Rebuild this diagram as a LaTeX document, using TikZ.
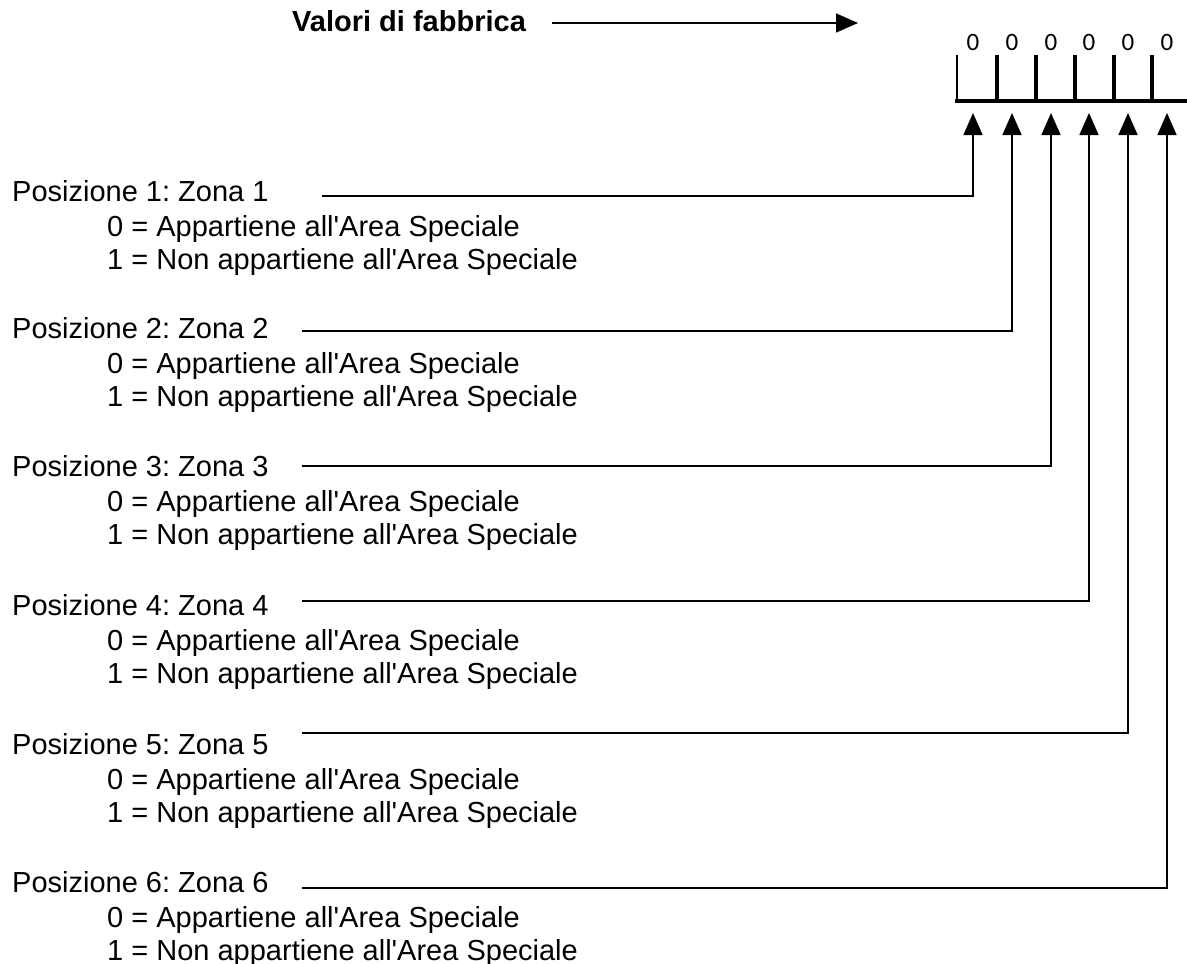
\documentclass[tikz,border=0pt]{standalone}
\usepackage{fontspec}
\setmainfont{Liberation Sans}[Ligatures=TeXOff]
\newfontfamily\digitfont{Carlito}
\usetikzlibrary{arrows.meta}
\frenchspacing
\tikzset{
  lbl/.style={anchor=base west, inner sep=0pt, font=\fontsize{29}{33}\selectfont},
  titlelbl/.style={anchor=base west, inner sep=0pt, font=\fontsize{29}{33}\selectfont\bfseries},
  digit/.style={anchor=base, inner sep=0pt, font=\digitfont\fontsize{25}{30}\selectfont},
  conn/.style={line width=1.6pt, -{Triangle[length=22pt,width=19pt]}},
  ticklin/.style={line width=3.3pt},
  rail/.style={line width=3.5pt},
}
\begin{document}
\begin{tikzpicture}[x=1pt,y=-1pt]
\useasboundingbox (0,0) rectangle (1187,964);
% title and its arrow
\node[titlelbl] (vf) at (292,31) {Valori di fabbrica};
\coordinate (vfs) at (552,23);
\coordinate (vfe) at (858,23);
\draw[conn] (vfs) -- (vfe);
% register: rail, ticks and digits
\coordinate (railL) at (955,101);
\coordinate (railR) at (1187,101);
\draw[rail] (railL) -- (railR);
\coordinate (tk0a) at (957,55); \coordinate (tk0b) at (957,101);
\draw[line width=2pt] (tk0a) -- (tk0b);
\foreach \j/\xt in {1/997,2/1036,3/1075,4/1114,5/1152}{
  \coordinate (tk\j a) at (\xt,55);
  \coordinate (tk\j b) at (\xt,101);
  \draw[ticklin] (tk\j a) -- (tk\j b);
}
\foreach \j/\xd in {1/973,2/1012,3/1051,4/1089,5/1128,6/1167}{
  \node[digit] (d\j) at (\xd,50) {0};
}
% positions
\foreach \i/\yb/\yc/\xs/\xa in {1/201/196/322/973,2/338/331/302/1012,3/476/466/302/1051,4/615/601/302/1089,5/754/733/302/1128,6/892/888/302/1167}{
  \node[lbl] (pos\i) at (12,\yb) {Posizione \i: Zona \i};
  \node[lbl] (zero\i) at (107,{\yb+35}) {0 = Appartiene all'Area Speciale};
  \node[lbl] (one\i) at (107,{\yb+68}) {1 = Non appartiene all'Area Speciale};
  \coordinate (cs\i) at (\xs,\yc);
  \coordinate (tip\i) at (\xa,113);
  \draw[conn] (cs\i) -| (tip\i);
}
\end{tikzpicture}
\end{document}
